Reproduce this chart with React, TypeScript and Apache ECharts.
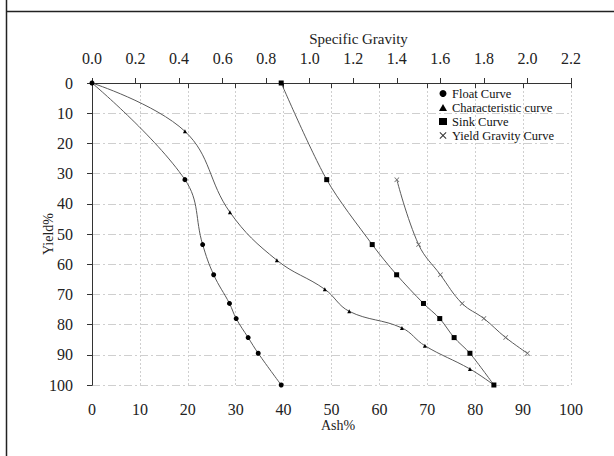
import React, { useEffect, useRef } from "react";
import * as echarts from "echarts";

const ashTicks = [0, 10, 20, 30, 40, 50, 60, 70, 80, 90, 100];
const floatAsh = [0, 19.4, 23.1, 25.4, 28.7, 30.1, 32.6, 34.7, 39.5];
const floatYield = [0, 32, 53.5, 63.5, 73, 78, 84.3, 89.5, 100];
const charAsh = [0, 19.4, 28.8, 38.6, 48.6, 53.7, 64.7, 69.5, 78.9, 83.9];
const charYield = [0, 16, 42.8, 58.7, 68.3, 75.6, 81.1, 87, 94.7, 100];
const sinkAsh = [39.5, 49.0, 58.5, 63.6, 69.2, 72.6, 75.6, 78.9, 83.9];
const sinkYield = [0, 32, 53.5, 63.5, 73, 78, 84.3, 89.5, 100];
const gravity = [1.4, 1.5, 1.6, 1.7, 1.8, 1.9, 2.0];
const gravityYield = [32, 53.5, 63.5, 73, 78, 84.3, 89.5];

const FONT = '"Liberation Serif", "Times New Roman", serif';
const LINE = "#5a5a5a";
const XICON = "path://M0,1L1,0L5,4L9,0L10,1L6,5L10,9L9,10L5,6L1,10L0,9L4,5Z";

const zip = (a: number[], b: number[]) => a.map((v, i) => [v, b[i]]);

export default function App() {
  const ref = useRef<HTMLDivElement>(null);
  useEffect(() => {
    document.body.style.margin = "0";
    const chart = echarts.init(ref.current!, null, { renderer: "svg" });
    const label = { fontFamily: FONT, fontSize: 16, color: "#222" };
    chart.setOption({
      animation: false,
      backgroundColor: "#fff",
      grid: { left: 92, right: 43, top: 83, bottom: 71 },
      legend: {
        orient: "vertical",
        left: 434,
        top: 82,
        itemWidth: 8,
        itemHeight: 7,
        itemGap: 1,
        textStyle: { fontFamily: FONT, fontSize: 12.5, color: "#111", lineHeight: 12 },
        data: [
          { name: "Float Curve", icon: "circle", itemStyle: { color: "#000" } },
          { name: "Characteristic curve", icon: "triangle", itemStyle: { color: "#000" } },
          { name: "Sink Curve", icon: "rect", itemStyle: { color: "#000" } },
          { name: "Yield Gravity Curve", icon: XICON, itemStyle: { color: "#333" } },
        ],
      },
      xAxis: [
        {
          type: "value",
          position: "bottom",
          min: 0,
          max: 100,
          interval: 10,
          name: "Ash%",
          nameLocation: "middle",
          nameGap: 33,
          nameMoveOverlap: false,
          nameTextStyle: { fontFamily: FONT, fontSize: 14, color: "#222", padding: [0, 0, 0, 13] },
          axisLine: { lineStyle: { color: "#333", width: 1 } },
          axisTick: { show: true, length: 5, lineStyle: { color: "#333" } },
          axisLabel: { ...label, margin: 16, formatter: (v: number) => (ashTicks.includes(v) ? String(v) : "") },
          splitLine: { show: true, lineStyle: { color: "#cfcfcf", type: [2, 2], width: 1 } },
        },
        {
          type: "value",
          position: "top",
          min: 0,
          max: 2.2,
          interval: 0.2,
          name: "Specific Gravity",
          nameLocation: "middle",
          nameGap: 37,
          nameMoveOverlap: false,
          nameTextStyle: { fontFamily: FONT, fontSize: 15, color: "#222", padding: [0, 0, 0, 54] },
          axisLine: { lineStyle: { color: "#333", width: 1 } },
          axisTick: { show: true, length: 5, lineStyle: { color: "#333" } },
          axisLabel: { ...label, margin: 17, formatter: (v: number) => v.toFixed(1) },
          splitLine: { show: false },
        },
      ],
      yAxis: [
        {
          type: "value",
          inverse: true,
          min: 0,
          max: 100,
          interval: 10,
          position: "left",
          name: "Yield%",
          nameLocation: "middle",
          nameGap: 37,
          nameRotate: 90,
          nameMoveOverlap: false,
          nameTextStyle: { fontFamily: FONT, fontSize: 14, color: "#222" },
          axisLine: { show: true, lineStyle: { color: "#333", width: 1 } },
          axisTick: { show: true, length: 5, lineStyle: { color: "#333" } },
          axisLabel: { ...label, margin: 19 },
          splitLine: { show: true, lineStyle: { color: "#cfcfcf", type: [8, 3, 2, 3], width: 1 } },
        },
        {
          type: "value",
          inverse: true,
          min: 0,
          max: 100,
          interval: 10,
          position: "right",
          axisLine: { show: true, lineStyle: { color: "#333", width: 1 } },
          axisTick: { show: false },
          axisLabel: { show: false },
          splitLine: { show: false },
        },
      ],
      series: [
        {
          name: "Float Curve",
          type: "line",
          xAxisIndex: 0,
          yAxisIndex: 0,
          smooth: 0.4,
          data: zip(floatAsh, floatYield),
          symbol: "circle",
          symbolSize: 5,
          itemStyle: { color: "#000" },
          lineStyle: { color: LINE, width: 1 },
        },
        {
          name: "Characteristic curve",
          type: "line",
          xAxisIndex: 0,
          yAxisIndex: 0,
          smooth: 0.4,
          data: zip(charAsh, charYield),
          symbol: "triangle",
          symbolSize: 4,
          itemStyle: { color: "#000" },
          lineStyle: { color: LINE, width: 1 },
        },
        {
          name: "Sink Curve",
          type: "line",
          xAxisIndex: 0,
          yAxisIndex: 0,
          smooth: 0.3,
          data: zip(sinkAsh, sinkYield),
          symbol: "rect",
          symbolSize: 5,
          itemStyle: { color: "#000" },
          lineStyle: { color: LINE, width: 1 },
        },
        {
          name: "Yield Gravity Curve",
          type: "line",
          xAxisIndex: 1,
          yAxisIndex: 0,
          smooth: 0.4,
          data: zip(gravity, gravityYield),
          symbol: XICON,
          symbolSize: 5,
          itemStyle: { color: "#666" },
          lineStyle: { color: LINE, width: 1 },
        },
      ],
      graphic: [
        { type: "line", shape: { x1: 6.5, y1: 0, x2: 6.5, y2: 456 }, style: { stroke: "#222", lineWidth: 1.5 } },
        { type: "line", shape: { x1: 6, y1: 11.5, x2: 614, y2: 11.5 }, style: { stroke: "#222", lineWidth: 1.5 } },
      ],
    });
    return () => chart.dispose();
  }, []);
  return <div ref={ref} style={{ width: 614, height: 456 }} />;
}
